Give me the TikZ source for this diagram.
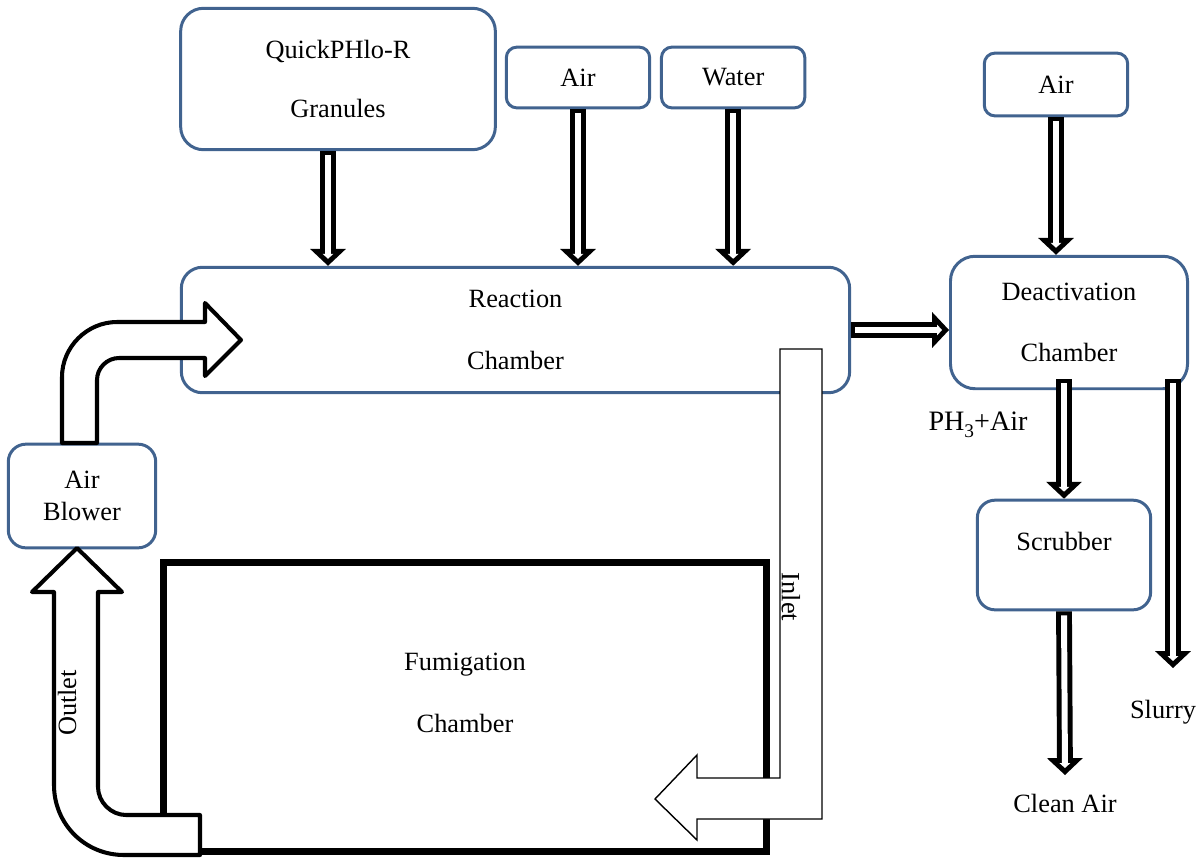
\documentclass[tikz,border=0pt]{standalone}
\usepackage{fontspec}
\setmainfont{Liberation Serif}
\usetikzlibrary{arrows.meta,positioning,calc}

\definecolor{boxblue}{RGB}{65,99,143}

\tikzset{
  box/.style={draw=boxblue, line width=1.7pt, rounded corners=10pt, align=center, inner sep=0pt},
  smallbox/.style={box, rounded corners=6pt, minimum width=81.6pt, minimum height=34.6pt},
  flow/.style={draw=white, line width=3.4pt, shorten >=4pt, shorten <=2.3pt,
    -{Triangle[length=2.8pt, width=6.2pt, line width=0pt 0]},
    preaction={draw=black, line width=9pt, shorten >=0pt, shorten <=0pt,
      -{Triangle[length=9.6pt, width=20.4pt, line width=0pt 0]}}},
  bigarrow/.style={draw=black, fill=white, line width=2.3pt, line join=round},
  inletarrow/.style={draw=black, fill=white, line width=0.8pt}
}

\begin{document}
\begin{tikzpicture}[x=0.02cm, y=-0.02cm, every node/.style={font=\fontsize{15}{18}\selectfont}]
\useasboundingbox (0,0) rectangle (1200,859);

% supply boxes on top
\node[box, minimum width=179.1pt, minimum height=80.5pt, rounded corners=13pt] (quick) at (338,79) {QuickPHlo-R\\[16pt]Granules};
\node[smallbox] (aira) at (578,77.5) {Air};
\node[smallbox, right=5pt of aira] (water) {Water};
\node[smallbox, minimum height=35.7pt] (airb) at (1056,84.5) {Air};

% chambers
\node[box, minimum width=380.4pt, minimum height=71.4pt, rounded corners=12pt] (reaction) at (515.5,330) {Reaction\\[17pt]Chamber};
\node[box, minimum width=134.9pt, minimum height=75.4pt, rounded corners=14pt] (deact) at (1069,322.5) {Deactivation\\[17pt]Chamber};
\node[box, minimum width=98.6pt, minimum height=62.4pt, text depth=16pt] (scrub) at (1064,555) {Scrubber};
\node[box, minimum width=83.9pt, minimum height=59pt] (blower) at (82,496) {Air\\Blower};
\node[draw=black, line width=4pt, minimum width=343.5pt, minimum height=164.4pt, align=center, text depth=16pt] (fumig) at (465,707) {Fumigation\\[17pt]Chamber};

% big pipes
\draw[bigarrow] (77,548) -- (122,592) -- (98,592) -- (98,787) .. controls (98,802) and (111,815) .. (126,815) -- (200,815) -- (200,855) -- (124,855) .. controls (85,855) and (54,824) .. (54,785) -- (54,592) -- (32,592) -- cycle;
\draw[bigarrow] (62,443) -- (62,377) .. controls (62,347) and (87,322) .. (117,322) -- (205,322) -- (205,303) -- (241,340) -- (205,376) -- (205,358) -- (119,358) .. controls (107,358) and (97,368) .. (97,380) -- (97,443) -- cycle;
\draw[inletarrow] (780,349) -- (822,349) -- (822,819) -- (697,819) -- (697,840) -- (655,799) -- (697,755) -- (697,778) -- (780,778) -- cycle;

% free ends
\coordinate (qdrop) at ($(quick.south)+(-10,0)$);
\coordinate (dsplit) at ($(deact.south)+(0,-11)$);
\coordinate (slurryend) at (1173,668);
\coordinate (cleanend) at (1065,775);

% flows
\draw[flow] (qdrop) -- (qdrop |- reaction.north);
\draw[flow] (aira.south) -- (aira.south |- reaction.north);
\draw[flow] (water.south) -- (water.south |- reaction.north);
\draw[flow] (reaction.east) -- (reaction.east -| deact.west);
\draw[flow] (airb.south) -- (airb.south |- deact.north);
\draw[flow] (dsplit -| scrub.north) -- (scrub.north);
\draw[flow] (dsplit -| slurryend) -- (slurryend);
\draw[flow] (scrub.south) -- (cleanend);

% labels
\node[font=\fontsize{16}{19}\selectfont] (phair) at (978,425) {PH\raisebox{-0.55ex}{\fontsize{11}{11}\selectfont 3}+Air};
\node (slurry) at (1163,712) {Slurry};
\node (cleanair) at (1065,803) {Clean Air};
\node[rotate=90] (outlet) at (67,703) {Outlet};
\node[rotate=-90] (inlet) at (791,597) {Inlet};
\end{tikzpicture}
\end{document}
